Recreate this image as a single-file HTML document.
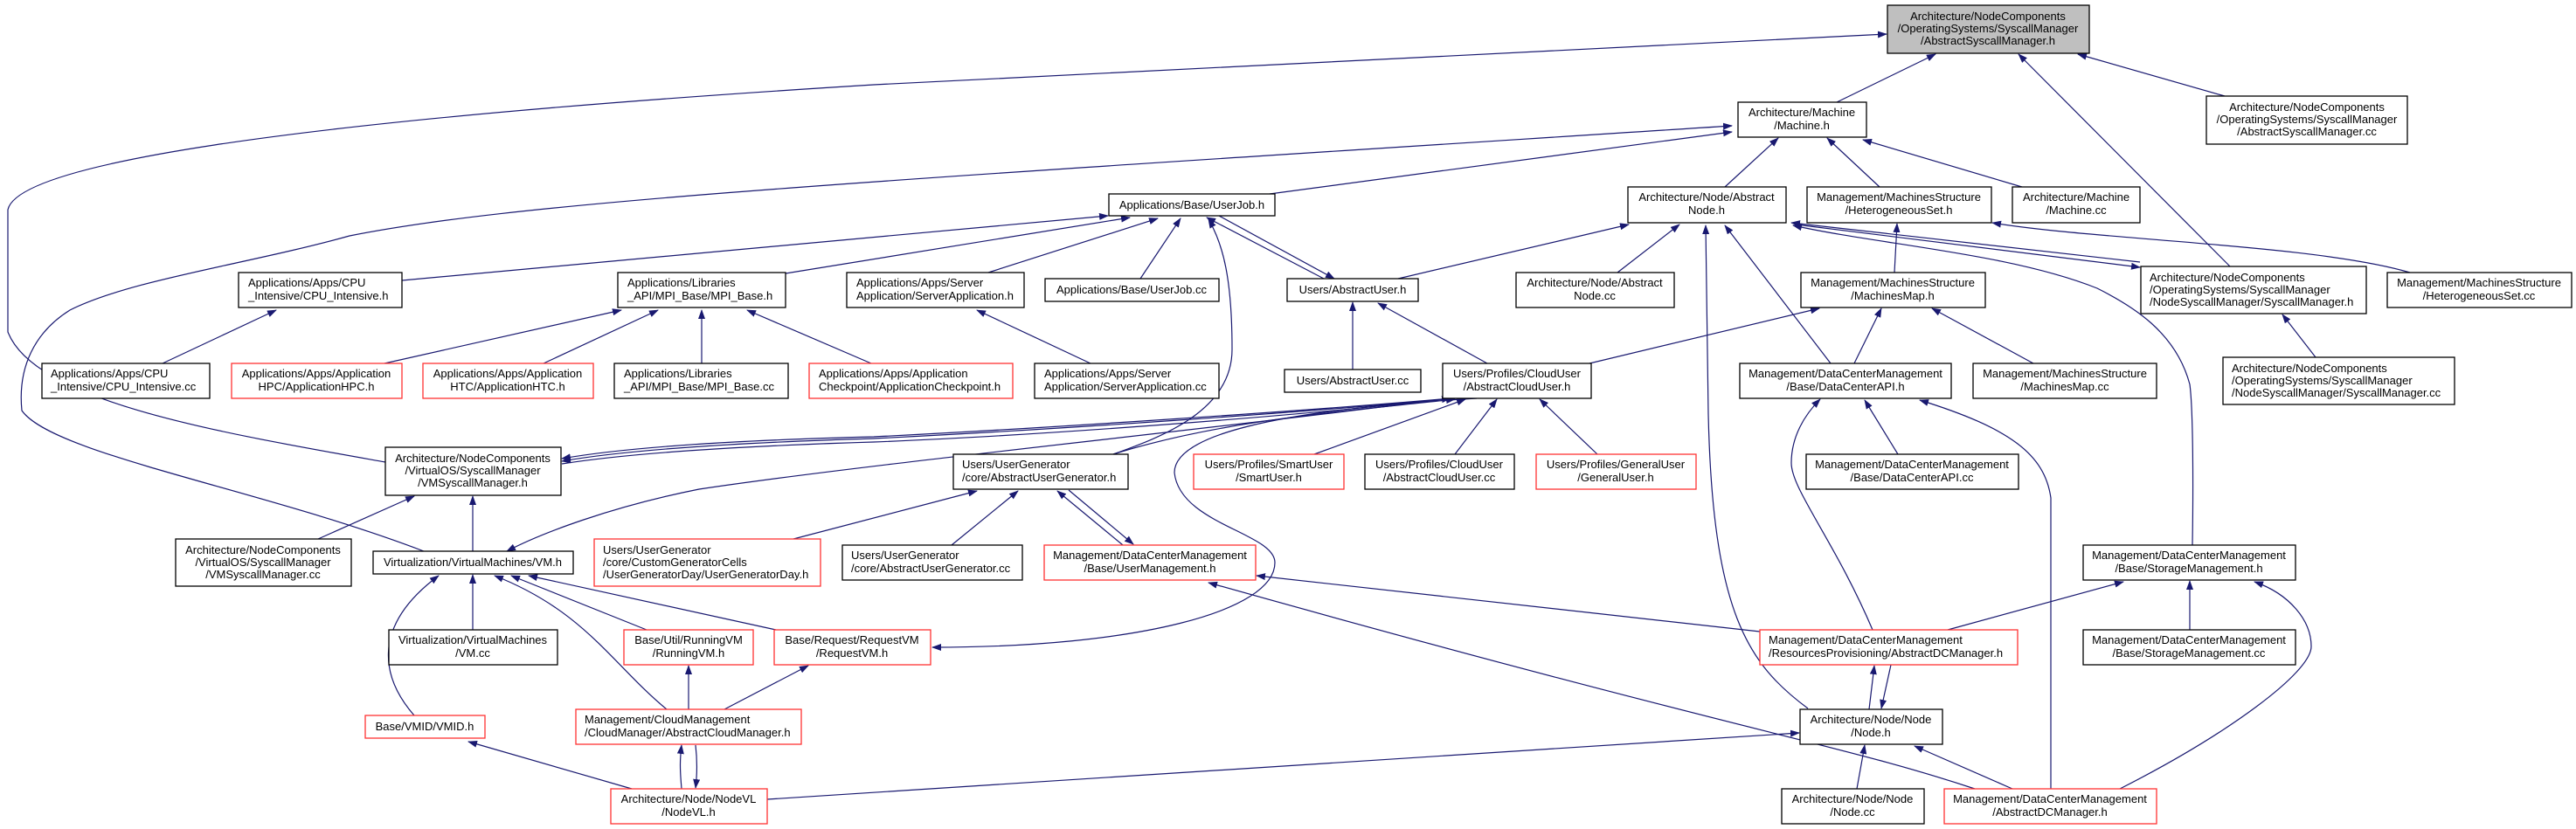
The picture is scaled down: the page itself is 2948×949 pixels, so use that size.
<!DOCTYPE html>
<html><head><meta charset="utf-8"><style>
html,body{margin:0;padding:0;background:#fff;}
svg{display:block;}
text{font-family:"Liberation Sans",sans-serif;font-size:13px;fill:#000;}
.b{fill:#fff;stroke:#000;stroke-width:1.3;}
.r{fill:#fff;stroke:#f33;stroke-width:1.3;}
.g{fill:#bfbfbf;stroke:#000;stroke-width:1.3;}
.e{fill:none;stroke:#191970;stroke-width:1.2;marker-end:url(#a);}
.c{text-anchor:middle;}
</style></head><body>
<svg width="2948" height="949" viewBox="0 0 2948 949" xmlns="http://www.w3.org/2000/svg">
<defs><marker id="a" markerWidth="11" markerHeight="8" refX="10" refY="4" orient="auto" markerUnits="userSpaceOnUse"><path d="M0,0 L11,4 L0,8 z" fill="#191970"/></marker></defs>

<!-- edges -->
<path class="e" d="M2102,117 L2215,62"/>
<path class="e" d="M2552,305 L2310,62"/>
<path class="e" d="M2546,110 L2378,62"/>
<path class="e" d="M441,529 C250,495 40,460 9,380 L9,240 C20,190 300,140 1000,97 L2159,39"/>
<path class="e" d="M485,631 C300,560 60,520 25,470 C20,420 40,380 80,355 C150,320 281,303 400,270 C600,230 1000,207 1982,144"/>
<path class="e" d="M1453,222 L1982,151"/>
<path class="e" d="M460,321 L1268,247"/>
<path class="e" d="M899,313 L1293,249"/>
<path class="e" d="M1131,312 L1325,250"/>
<path class="e" d="M1305,319 L1351,250"/>
<path class="e" d="M1515,319 L1381,249"/>
<path class="e" d="M1395,247 L1527,319"/>
<path class="e" d="M1274,520 C1330,500 1410,470 1410,400 C1410,320 1400,280 1383,251"/>
<path class="e" d="M1660,456 C1500,470 1200,490 1000,500 C800,505 700,515 643,525"/>
<path class="e" d="M1662,456 C1500,472 1200,492 1000,502 C800,508 700,518 643,528"/>
<path class="e" d="M643,531 C700,522 800,512 1000,506 C1200,498 1500,475 1660,456"/>
<path class="e" d="M1660,456 C1400,490 1000,530 800,560 C700,580 620,610 580,631"/>
<path class="e" d="M1274,520 C1400,480 1550,470 1665,457"/>
<path class="e" d="M1690,456 C1450,470 1344,500 1344,541 C1350,600 1459,610 1459,644 C1459,700 1300,741 1067,741"/>
<path class="e" d="M1504,520 L1677,457"/>
<path class="e" d="M1665,520 L1713,457"/>
<path class="e" d="M1828,520 L1762,457"/>
<path class="e" d="M1702,416 L1577,347"/>
<path class="e" d="M1548,423 L1548,346"/>
<path class="e" d="M1819,416 L2082,353"/>
<path class="e" d="M1600,319 L1864,257"/>
<path class="e" d="M1851,312 L1922,257"/>
<path class="e" d="M2069,811 C2000,760 1960,700 1955,474 L1952,258"/>
<path class="e" d="M2095,416 L1974,258"/>
<path class="e" d="M2449,300 L2050,255"/>
<path class="e" d="M2055,257 L2449,306"/>
<path class="e" d="M2509,624 C2510,560 2510,470 2506,440 C2490,380 2440,350 2400,330 C2300,290 2150,280 2052,258"/>
<path class="e" d="M1974,214 L2035,158"/>
<path class="e" d="M2151,214 L2091,158"/>
<path class="e" d="M2314,214 L2132,160"/>
<path class="e" d="M2758,312 C2650,280 2400,275 2280,255"/>
<path class="e" d="M2168,312 L2171,256"/>
<path class="e" d="M2122,416 L2153,353"/>
<path class="e" d="M2327,416 L2211,353"/>
<path class="e" d="M2650,409 L2612,360"/>
<path class="e" d="M2172,520 L2134,458"/>
<path class="e" d="M2143,721 C2100,620 2050,560 2050,530 C2050,500 2065,475 2083,457"/>
<path class="e" d="M2347,903 L2347,570 C2340,520 2300,490 2197,458"/>
<path class="e" d="M2229,721 L2430,666"/>
<path class="e" d="M2506,721 L2506,665"/>
<path class="e" d="M2426,903 C2550,840 2645,770 2645,740 C2645,710 2620,680 2580,666"/>
<path class="e" d="M2139,812 L2145,762"/>
<path class="e" d="M2164,761 L2153,811"/>
<path class="e" d="M2125,903 L2134,853"/>
<path class="e" d="M2303,903 L2191,854"/>
<path class="e" d="M2014,723 L1438,659"/>
<path class="e" d="M2260,903 C2100,850 2000,840 1383,667"/>
<path class="e" d="M878,915 L2059,839"/>
<path class="e" d="M1285,624 L1210,562"/>
<path class="e" d="M1223,561 L1297,623"/>
<path class="e" d="M1089,624 L1165,562"/>
<path class="e" d="M908,617 L1118,562"/>
<path class="e" d="M541,631 L541,568"/>
<path class="e" d="M364,617 L474,568"/>
<path class="e" d="M541,721 L541,658"/>
<path class="e" d="M474,819 C440,780 420,720 502,659"/>
<path class="e" d="M763,812 C700,760 670,700 566,659"/>
<path class="e" d="M740,721 L585,659"/>
<path class="e" d="M888,721 L605,659"/>
<path class="e" d="M788,812 L788,762"/>
<path class="e" d="M829,812 L925,762"/>
<path class="e" d="M723,903 L536,849"/>
<path class="e" d="M780,903 C778,880 778,870 780,853"/>
<path class="e" d="M796,853 C798,870 798,885 796,902"/>
<path class="e" d="M186,416 L316,355"/>
<path class="e" d="M440,416 L711,355"/>
<path class="e" d="M622,416 L753,355"/>
<path class="e" d="M803,416 L803,355"/>
<path class="e" d="M997,416 L855,355"/>
<path class="e" d="M1248,416 L1118,355"/>

<!-- nodes -->
<rect class="g" x="2160" y="6" width="231" height="55"/>
<text class="c" x="2275" y="23">Architecture/NodeComponents</text><text class="c" x="2275" y="37">/OperatingSystems/SyscallManager</text><text class="c" x="2275" y="51">/AbstractSyscallManager.h</text>

<rect class="b" x="1989" y="117" width="147" height="40"/>
<text class="c" x="2062" y="133">Architecture/Machine</text><text class="c" x="2062" y="148">/Machine.h</text>

<rect class="b" x="2525" y="110" width="230" height="55"/>
<text class="c" x="2640" y="127">Architecture/NodeComponents</text><text class="c" x="2640" y="141">/OperatingSystems/SyscallManager</text><text class="c" x="2640" y="155">/AbstractSyscallManager.cc</text>

<rect class="b" x="1863" y="214" width="181" height="41"/>
<text class="c" x="1953" y="230">Architecture/Node/Abstract</text><text class="c" x="1953" y="245">Node.h</text>

<rect class="b" x="2068" y="214" width="211" height="41"/>
<text class="c" x="2173" y="230">Management/MachinesStructure</text><text class="c" x="2173" y="245">/HeterogeneousSet.h</text>

<rect class="b" x="2303" y="214" width="146" height="41"/>
<text class="c" x="2376" y="230">Architecture/Machine</text><text class="c" x="2376" y="245">/Machine.cc</text>

<rect class="b" x="1269" y="222" width="190" height="25"/>
<text class="c" x="1364" y="239">Applications/Base/UserJob.h</text>

<rect class="b" x="273" y="312" width="187" height="40"/>
<text x="284" y="328">Applications/Apps/CPU</text><text x="284" y="343">_Intensive/CPU_Intensive.h</text>

<rect class="b" x="707" y="312" width="192" height="40"/>
<text x="718" y="328">Applications/Libraries</text><text x="718" y="343">_API/MPI_Base/MPI_Base.h</text>

<rect class="b" x="969" y="312" width="203" height="40"/>
<text x="980" y="328">Applications/Apps/Server</text><text x="980" y="343">Application/ServerApplication.h</text>

<rect class="b" x="1196" y="319" width="199" height="26"/>
<text class="c" x="1295" y="336">Applications/Base/UserJob.cc</text>

<rect class="b" x="1473" y="319" width="150" height="26"/>
<text class="c" x="1548" y="336">Users/AbstractUser.h</text>

<rect class="b" x="1735" y="312" width="181" height="40"/>
<text class="c" x="1825" y="328">Architecture/Node/Abstract</text><text class="c" x="1825" y="343">Node.cc</text>

<rect class="b" x="2061" y="312" width="211" height="40"/>
<text class="c" x="2166" y="328">Management/MachinesStructure</text><text class="c" x="2166" y="343">/MachinesMap.h</text>

<rect class="b" x="2450" y="305" width="258" height="54"/>
<text x="2460" y="322">Architecture/NodeComponents</text><text x="2460" y="336">/OperatingSystems/SyscallManager</text><text x="2460" y="350">/NodeSyscallManager/SyscallManager.h</text>

<rect class="b" x="2732" y="312" width="211" height="40"/>
<text class="c" x="2837" y="328">Management/MachinesStructure</text><text class="c" x="2837" y="343">/HeterogeneousSet.cc</text>

<rect class="b" x="48" y="416" width="192" height="40"/>
<text x="58" y="432">Applications/Apps/CPU</text><text x="58" y="447">_Intensive/CPU_Intensive.cc</text>

<rect class="r" x="265" y="416" width="195" height="40"/>
<text class="c" x="362" y="432">Applications/Apps/Application</text><text class="c" x="362" y="447">HPC/ApplicationHPC.h</text>

<rect class="r" x="484" y="416" width="195" height="40"/>
<text class="c" x="581" y="432">Applications/Apps/Application</text><text class="c" x="581" y="447">HTC/ApplicationHTC.h</text>

<rect class="b" x="703" y="416" width="199" height="40"/>
<text x="714" y="432">Applications/Libraries</text><text x="714" y="447">_API/MPI_Base/MPI_Base.cc</text>

<rect class="r" x="926" y="416" width="233" height="40"/>
<text x="937" y="432">Applications/Apps/Application</text><text x="937" y="447">Checkpoint/ApplicationCheckpoint.h</text>

<rect class="b" x="1184" y="416" width="211" height="40"/>
<text x="1195" y="432">Applications/Apps/Server</text><text x="1195" y="447">Application/ServerApplication.cc</text>

<rect class="b" x="1470" y="423" width="156" height="26"/>
<text class="c" x="1548" y="440">Users/AbstractUser.cc</text>

<rect class="b" x="1651" y="416" width="170" height="40"/>
<text class="c" x="1736" y="432">Users/Profiles/CloudUser</text><text class="c" x="1736" y="447">/AbstractCloudUser.h</text>

<rect class="b" x="1991" y="416" width="242" height="40"/>
<text class="c" x="2112" y="432">Management/DataCenterManagement</text><text class="c" x="2112" y="447">/Base/DataCenterAPI.h</text>

<rect class="b" x="2258" y="416" width="210" height="40"/>
<text class="c" x="2363" y="432">Management/MachinesStructure</text><text class="c" x="2363" y="447">/MachinesMap.cc</text>

<rect class="b" x="2544" y="409" width="265" height="54"/>
<text x="2554" y="426">Architecture/NodeComponents</text><text x="2554" y="440">/OperatingSystems/SyscallManager</text><text x="2554" y="454">/NodeSyscallManager/SyscallManager.cc</text>

<rect class="b" x="441" y="512" width="201" height="55"/>
<text class="c" x="541" y="529">Architecture/NodeComponents</text><text class="c" x="541" y="543">/VirtualOS/SyscallManager</text><text class="c" x="541" y="557">/VMSyscallManager.h</text>

<rect class="b" x="1091" y="520" width="200" height="40"/>
<text x="1101" y="536">Users/UserGenerator</text><text x="1101" y="551">/core/AbstractUserGenerator.h</text>

<rect class="r" x="1366" y="520" width="172" height="40"/>
<text class="c" x="1452" y="536">Users/Profiles/SmartUser</text><text class="c" x="1452" y="551">/SmartUser.h</text>

<rect class="b" x="1562" y="520" width="171" height="40"/>
<text class="c" x="1647" y="536">Users/Profiles/CloudUser</text><text class="c" x="1647" y="551">/AbstractCloudUser.cc</text>

<rect class="r" x="1758" y="520" width="183" height="40"/>
<text class="c" x="1849" y="536">Users/Profiles/GeneralUser</text><text class="c" x="1849" y="551">/GeneralUser.h</text>

<rect class="b" x="2067" y="520" width="243" height="40"/>
<text class="c" x="2188" y="536">Management/DataCenterManagement</text><text class="c" x="2188" y="551">/Base/DataCenterAPI.cc</text>

<rect class="b" x="201" y="617" width="201" height="54"/>
<text class="c" x="301" y="634">Architecture/NodeComponents</text><text class="c" x="301" y="648">/VirtualOS/SyscallManager</text><text class="c" x="301" y="662">/VMSyscallManager.cc</text>

<rect class="b" x="427" y="631" width="229" height="26"/>
<text class="c" x="541" y="648">Virtualization/VirtualMachines/VM.h</text>

<rect class="r" x="680" y="617" width="259" height="54"/>
<text x="690" y="634">Users/UserGenerator</text><text x="690" y="648">/core/CustomGeneratorCells</text><text x="690" y="662">/UserGeneratorDay/UserGeneratorDay.h</text>

<rect class="b" x="964" y="624" width="206" height="40"/>
<text x="974" y="640">Users/UserGenerator</text><text x="974" y="655">/core/AbstractUserGenerator.cc</text>

<rect class="r" x="1195" y="624" width="242" height="40"/>
<text class="c" x="1316" y="640">Management/DataCenterManagement</text><text class="c" x="1316" y="655">/Base/UserManagement.h</text>

<rect class="b" x="2384" y="624" width="243" height="40"/>
<text class="c" x="2505" y="640">Management/DataCenterManagement</text><text class="c" x="2505" y="655">/Base/StorageManagement.h</text>

<rect class="b" x="445" y="721" width="193" height="40"/>
<text class="c" x="541" y="737">Virtualization/VirtualMachines</text><text class="c" x="541" y="752">/VM.cc</text>

<rect class="r" x="714" y="721" width="148" height="40"/>
<text class="c" x="788" y="737">Base/Util/RunningVM</text><text class="c" x="788" y="752">/RunningVM.h</text>

<rect class="r" x="886" y="721" width="179" height="40"/>
<text class="c" x="975" y="737">Base/Request/RequestVM</text><text class="c" x="975" y="752">/RequestVM.h</text>

<rect class="r" x="2014" y="721" width="295" height="40"/>
<text x="2024" y="737">Management/DataCenterManagement</text><text x="2024" y="752">/ResourcesProvisioning/AbstractDCManager.h</text>

<rect class="b" x="2384" y="721" width="243" height="40"/>
<text class="c" x="2505" y="737">Management/DataCenterManagement</text><text class="c" x="2505" y="752">/Base/StorageManagement.cc</text>

<rect class="r" x="418" y="819" width="137" height="26"/>
<text class="c" x="486" y="836">Base/VMID/VMID.h</text>

<rect class="r" x="659" y="812" width="258" height="40"/>
<text x="669" y="828">Management/CloudManagement</text><text x="669" y="843">/CloudManager/AbstractCloudManager.h</text>

<rect class="b" x="2060" y="812" width="163" height="40"/>
<text class="c" x="2141" y="828">Architecture/Node/Node</text><text class="c" x="2141" y="843">/Node.h</text>

<rect class="r" x="699" y="903" width="179" height="40"/>
<text class="c" x="788" y="919">Architecture/Node/NodeVL</text><text class="c" x="788" y="934">/NodeVL.h</text>

<rect class="b" x="2039" y="903" width="163" height="40"/>
<text class="c" x="2120" y="919">Architecture/Node/Node</text><text class="c" x="2120" y="934">/Node.cc</text>

<rect class="r" x="2225" y="903" width="243" height="40"/>
<text class="c" x="2346" y="919">Management/DataCenterManagement</text><text class="c" x="2346" y="934">/AbstractDCManager.h</text>
</svg>
</body></html>
